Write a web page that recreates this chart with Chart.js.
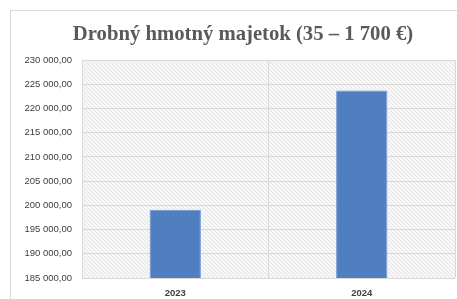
<!DOCTYPE html>
<html>
<head>
<meta charset="utf-8">
<script src="https://cdn.jsdelivr.net/npm/chart.js@4.4.0/dist/chart.umd.min.js"></script>
<style>
html,body{margin:0;padding:0;background:#fff;overflow:hidden;}
#wrap{position:relative;width:457px;height:299px;}
canvas{display:block;}
</style>
</head>
<body>
<div id="wrap"><canvas id="c" width="457" height="299"></canvas></div>
<script>
const categories = ['2023', '2024'];
const values = [199100, 223700];
const yMin = 185000;
const yMax = 230000;
const yStep = 5000;
const titleText = 'Drobný hmotný majetok (35 – 1 700 €)';

function fmt(v){
  const s = Math.round(v).toString().replace(/\B(?=(\d{3})+(?!\d))/g, ' ');
  return s + ',00';
}

function makePattern(ctx){
  const p = document.createElement('canvas');
  p.width = 4; p.height = 4;
  const g = p.getContext('2d');
  g.fillStyle = '#f7f7f7';
  g.fillRect(0,0,4,4);
  g.fillStyle = '#e4e4e4';
  for(let i=0;i<4;i++){ g.fillRect(i, i, 1, 1); }
  return ctx.createPattern(p, 'repeat');
}

const bgPlugin = {
  id: 'bg',
  beforeDraw(chart){
    const ctx = chart.ctx;
    const a = chart.chartArea;
    ctx.save();
    ctx.strokeStyle = '#d9d9d9';
    ctx.lineWidth = 1;
    ctx.strokeRect(10.5, 10.5, 465, 300);
    ctx.fillStyle = makePattern(ctx);
    ctx.fillRect(a.left, a.top, a.right - a.left, a.bottom - a.top);
    ctx.restore();
  }
};

new Chart(document.getElementById('c'), {
  type: 'bar',
  data: {
    labels: categories,
    datasets: [{
      data: values,
      backgroundColor: '#4f7fc0',
      borderColor: '#6a95cf',
      borderWidth: 1,
      barPercentage: 0.275,
      categoryPercentage: 1.0
    }]
  },
  options: {
    responsive: false,
    animation: false,
    layout: { padding: { left: 31, right: 2, top: 0, bottom: 0 } },
    plugins: {
      legend: { display: false },
      tooltip: { enabled: false },
      title: {
        display: true,
        text: titleText,
        color: '#5a5a5a',
        font: { family: 'Liberation Serif', size: 20.7, weight: 'bold', lineHeight: 1.2 },
        padding: { top: 22, bottom: 13.2 }
      }
    },
    scales: {
      x: {
        grid: { color: '#d9d9d9', drawTicks: false, offset: true },
        border: { display: false },
        ticks: { color: '#404040', font: { family: 'Liberation Sans', size: 9.5, weight: 'bold' }, padding: 10 },
        afterFit(s){ s.height = 21; }
      },
      y: {
        min: yMin, max: yMax,
        grid: { color: '#d9d9d9', drawTicks: false },
        border: { display: false },
        ticks: {
          stepSize: yStep,
          color: '#404040',
          font: { family: 'Liberation Sans', size: 9.5 },
          padding: 10,
          callback: (v) => fmt(v)
        },
        afterFit(s){
          s.width = 51;
          s._computeLabelArea = function(){ return undefined; };
        }
      }
    }
  },
  plugins: [bgPlugin]
});
</script>
</body>
</html>
